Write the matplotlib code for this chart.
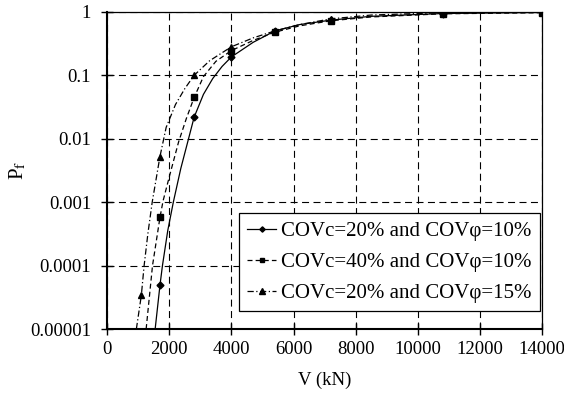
import matplotlib
matplotlib.use("Agg")
import matplotlib.pyplot as plt
from matplotlib.ticker import FixedLocator, FixedFormatter, NullLocator

plt.rcParams['font.family'] = ['Liberation Serif', 'DejaVu Serif']
plt.rcParams['mathtext.fontset'] = 'stix'

labels = ["COVc=20% and COVφ=10%", "COVc=40% and COVφ=10%", "COVc=20% and COVφ=15%"]

# fitted curves (V in kN, log10 Pf)
v_c1 = [1545, 1700, 1780, 1950, 2130, 2370, 2620, 2800, 3100, 3400, 3700, 4000, 4700, 5400, 6200, 7200, 8500, 10800, 14000]
lp_c1 = [-5, -4.31, -4, -3.45, -3, -2.47, -2, -1.66, -1.3, -1.05, -0.86, -0.71, -0.48, -0.30, -0.20, -0.13, -0.07, -0.026, -0.009]

v_c2 = [1255, 1460, 1700, 1800, 2000, 2300, 2550, 2800, 3100, 3500, 4000, 4700, 5400, 6200, 7200, 8500, 10800, 14000]
lp_c2 = [-5, -4, -3.24, -2.98, -2.6, -2.05, -1.68, -1.35, -1.02, -0.78, -0.61, -0.45, -0.32, -0.22, -0.14, -0.08, -0.03, -0.013]

v_c3 = [940, 1100, 1190, 1310, 1450, 1700, 1900, 2200, 2500, 2800, 3300, 4000, 4700, 5400, 6200, 7200, 8500, 10800, 14000]
lp_c3 = [-5, -4.47, -4, -3.5, -3, -2.28, -1.82, -1.46, -1.21, -1.0, -0.77, -0.55, -0.41, -0.30, -0.2, -0.11, -0.05, -0.013, -0.004]

# marker points
v_m1 = [1700, 2800, 4000, 5400, 7200, 10800, 14000]
pf_m1 = [4.9e-5, 0.022, 0.195, 0.5, 0.74, 0.94, 0.98]
v_m2 = [1700, 2800, 4000, 5400, 7200, 10800, 14000]
pf_m2 = [5.75e-4, 0.045, 0.245, 0.48, 0.72, 0.93, 0.97]
v_m3 = [1100, 1700, 2800, 4000, 5400, 7200, 10800, 14000]
pf_m3 = [3.4e-5, 5.2e-3, 0.1, 0.28, 0.5, 0.78, 0.97, 0.99]

yticks = [1e-5, 1e-4, 1e-3, 1e-2, 1e-1, 1]
ytick_labels = ["0.00001", "0.0001", "0.001", "0.01", "0.1", "1"]
xticks = [0, 2000, 4000, 6000, 8000, 10000, 12000, 14000]

fig = plt.figure(figsize=(5.64, 3.96), dpi=100)
ax = fig.add_axes([0.19, 0.169, 0.771, 0.801])
ax.set_yscale('log')

styles = [('-', 'D', 3.5, v_c1, lp_c1, v_m1, pf_m1),
          ((0, (4, 2.5)), 's', 4, v_c2, lp_c2, v_m2, pf_m2),
          ((0, (5, 2, 1, 2)), '^', 4.5, v_c3, lp_c3, v_m3, pf_m3)]
for lab, (ls, mk, ms, vc, lpc, vm, pm) in zip(labels, styles):
    ax.plot(vc, [10 ** p for p in lpc], color='black', lw=0.9, ls=ls, zorder=3)
    ax.plot(vm, pm, ls='none', marker=mk, ms=ms, color='black', zorder=4)
    ax.plot([], [], color='black', lw=0.9, ls=ls, marker=mk, ms=ms - 0.8, label=lab)

ax.set_xlim(0, 14000)
ax.set_ylim(1e-5, 1)
ax.xaxis.set_major_locator(FixedLocator(xticks))
ax.yaxis.set_major_locator(FixedLocator(yticks))
ax.yaxis.set_major_formatter(FixedFormatter(ytick_labels))
ax.yaxis.set_minor_locator(NullLocator())
ax.tick_params(axis='both', which='major', direction='inout', length=9, width=1,
               labelsize=13.5, colors='black')
ax.tick_params(axis='x', pad=4)
ax.tick_params(axis='y', pad=7)

ax.grid(True, which='major', color='black', ls=(0, (6.3, 4)), lw=0.8)
for side in ['left', 'bottom']:
    ax.spines[side].set_linewidth(1.5)
for side in ['top', 'right']:
    ax.spines[side].set_linewidth(0.9)

ax.set_xlabel("V (kN)", fontsize=13.5, labelpad=10)
ax.set_ylabel("P$_\\mathrm{f}$", fontsize=15, labelpad=1)

leg = ax.legend(loc='lower right', bbox_to_anchor=(0.995, 0.057), fontsize=15,
                handlelength=1.4, handletextpad=0.25, labelspacing=0.55,
                borderpad=0.38, borderaxespad=0, fancybox=False, framealpha=1)
leg.get_frame().set_edgecolor('black')
leg.get_frame().set_linewidth(0.9)

fig.savefig("out.png", dpi=100)
